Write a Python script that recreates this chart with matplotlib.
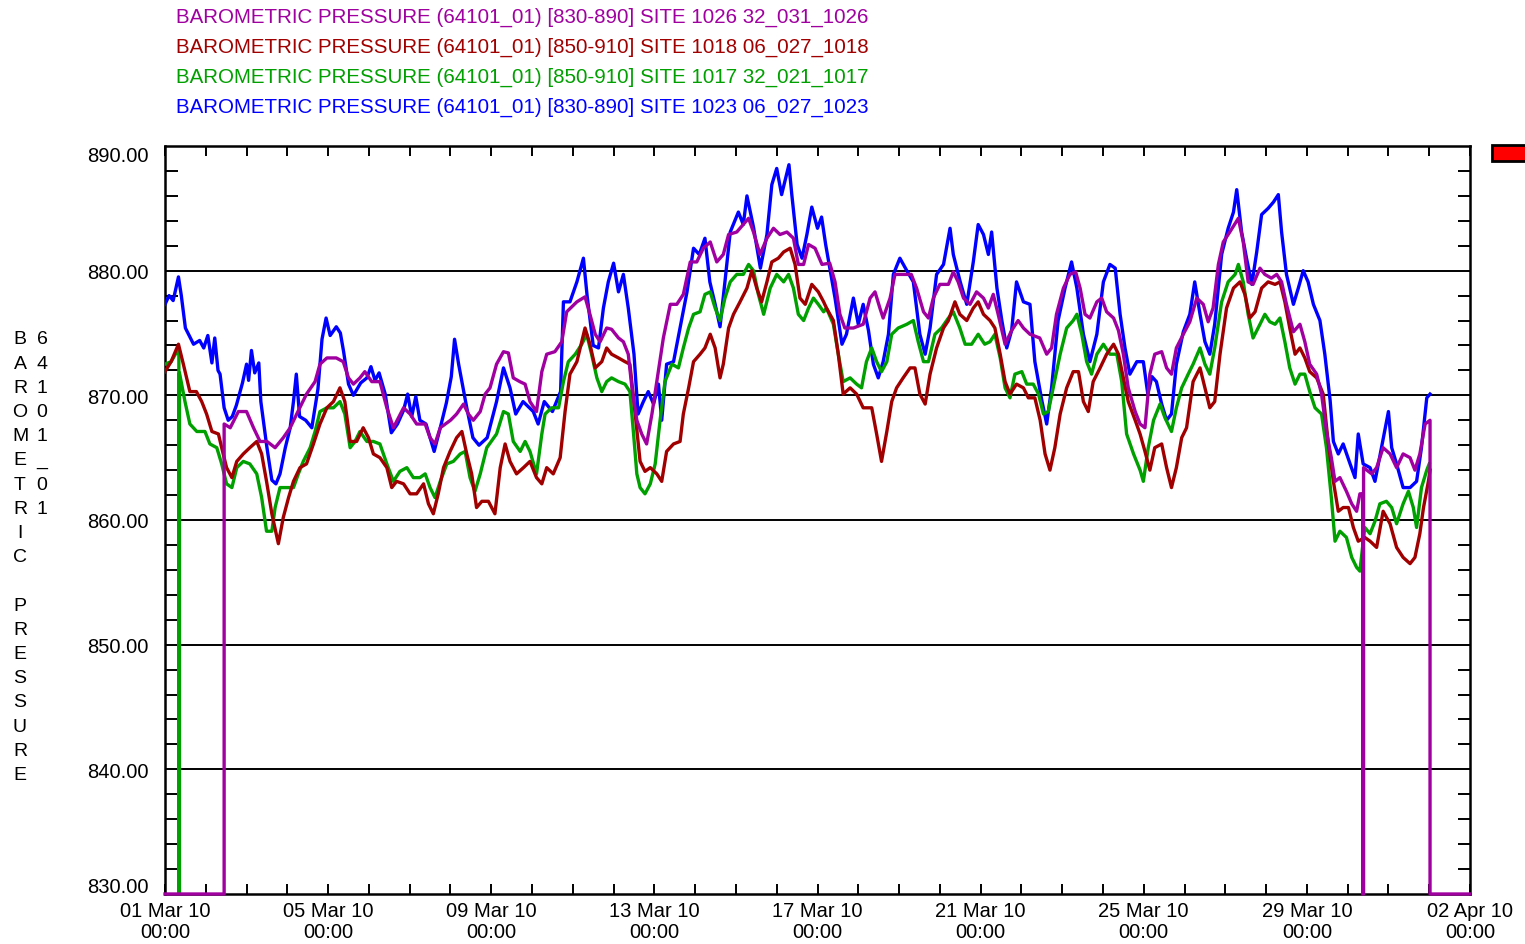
import numpy as np
import matplotlib
matplotlib.use('Agg')
import matplotlib.pyplot as plt
import matplotlib.dates as mdates
from matplotlib.patches import Rectangle
from matplotlib.transforms import ScaledTranslation

plt.rcParams['font.family'] = ['Liberation Sans', 'DejaVu Sans']

# series data: time offset in days from 01 Mar 2010 00:00, pressure values
blue_days = [0, 0.1, 0.2, 0.33, 0.4, 0.5, 0.7, 0.85, 0.95, 1.05, 1.15, 1.22, 1.3, 1.35, 1.45, 1.55, 1.65,
             1.75, 1.9, 2.0, 2.05, 2.12, 2.2, 2.3, 2.35, 2.5, 2.62, 2.72, 2.82, 2.95, 3.07, 3.15, 3.22,
             3.3, 3.45, 3.6, 3.75, 3.85, 3.95, 4.05, 4.2, 4.3, 4.38, 4.5, 4.62, 4.8, 4.95, 5.05, 5.15,
             5.25, 5.4, 5.55, 5.7, 5.85, 5.95, 6.05, 6.15, 6.25, 6.4, 6.6, 6.75, 6.9, 7.02, 7.1, 7.2,
             7.4, 7.55, 7.7, 7.9, 8.05, 8.13, 8.3, 8.46, 8.6, 8.78, 9.03, 9.15, 9.3, 9.5, 9.7, 9.77,
             9.93, 10.1, 10.26, 10.35, 10.5, 10.63, 10.75, 10.87, 11.0, 11.12, 11.24, 11.36, 11.5,
             11.6, 11.73, 11.85, 11.98, 12.1, 12.18, 12.3, 12.47, 12.6, 12.8, 12.96, 13.1, 13.24,
             13.36, 13.49, 13.61, 13.73, 13.86, 14.06, 14.18, 14.27, 14.43, 14.6, 14.76, 14.88, 15.0,
             15.12, 15.3, 15.37, 15.5, 15.62, 15.74, 15.86, 16.0, 16.1, 16.2, 16.43, 16.6, 16.71,
             16.88, 17.0, 17.12, 17.25, 17.37, 17.49, 17.61, 17.74, 17.86, 18.02, 18.19, 18.35, 18.51,
             18.64, 18.76, 18.92, 19.09, 19.25, 19.33, 19.5, 19.66, 19.82, 19.94, 20.07, 20.19, 20.27,
             20.4, 20.52, 20.64, 20.76, 20.88, 21.05, 21.21, 21.33, 21.5, 21.62, 21.74, 21.9, 22.07,
             22.23, 22.36, 22.52, 22.68, 22.85, 23.01, 23.17, 23.3, 23.42, 23.54, 23.66, 23.83, 23.99,
             24.1, 24.2, 24.31, 24.44, 24.56, 24.68, 24.8, 24.97, 25.13, 25.25, 25.38, 25.5, 25.62,
             25.74, 25.91, 26.07, 26.2, 26.28, 26.4, 26.52, 26.65, 26.77, 26.89, 27.05, 27.18, 27.3,
             27.38, 27.5, 27.67, 27.79, 27.91, 28.03, 28.16, 28.32, 28.44, 28.57, 28.65, 28.77, 28.89,
             29.06, 29.18, 29.26, 29.38, 29.55, 29.67, 29.83, 30.0, 30.08, 30.2, 30.36, 30.53, 30.69,
             30.81, 30.94, 31.02]
blue_vals = [877.3, 878, 877.6, 879.5, 878, 875.4, 874.1, 874.4, 873.8, 874.8, 872.6, 874.6, 872, 871.7,
             869, 868, 868.3, 869.2, 871, 872.5, 871.2, 873.6, 871.8, 872.6, 869.5, 865.8, 863.2,
             862.9, 863.7, 865.8, 867.4, 869.5, 871.7, 868.3, 868, 867.4, 870.5, 874.5, 876.2, 874.8,
             875.5, 875, 873.5, 870.9, 870, 871, 871.4, 872.3, 871.2, 871.8, 870.1, 867, 867.7, 868.8,
             870.1, 868.3, 869.9, 868, 867.7, 865.5, 867.4, 869.4, 871.5, 874.5, 872.5, 869, 866.6,
             866, 866.6, 868.5, 869.5, 872.2, 870.6, 868.5, 869.5, 868.7, 867.7, 869.5, 868.7, 870.3,
             877.5, 877.5, 879.1, 881, 878, 874, 873.8, 877, 879.1, 880.6, 878.3, 879.7, 877, 873.3,
             868.5, 869.5, 870.3, 869.3, 870.9, 868, 872.5, 872.7, 874.9, 878.3, 881.8, 881.3, 882.6,
             879.1, 877.3, 875.5, 879.1, 883.1, 884.7, 883.7, 886, 883.5, 880.2, 882.9, 886.9, 888.2,
             886.1, 888.5, 886.1, 882.1, 881, 882.9, 885.1, 883.4, 884.3, 882.1, 877.8, 874.1, 874.9,
             877.8, 875.7, 877.3, 875.2, 872.5, 871.4, 872.7, 874.9, 879.7, 881, 880, 879.1, 874.9,
             873.3, 875.4, 879.7, 880.5, 883.4, 881.3, 879.1, 877.3, 880.7, 883.7, 882.9, 881.3, 883.1,
             878.6, 876, 873.8, 875.2, 879.1, 877.5, 877.3, 872.7, 869.6, 867.7, 870.6, 876, 878.6,
             880.7, 878.6, 874.9, 872.7, 874.9, 879.1, 880.5, 880.2, 876.5, 873.8, 871.7, 872.7, 872.7,
             870.1, 871.5, 871.1, 869.3, 868, 868.5, 872.5, 875.1, 876.5, 879.1, 876.5, 874.3, 873.3,
             875.7, 881.3, 883.4, 884.7, 886.5, 883.1, 881, 878.9, 881.5, 884.5, 885, 885.5, 886.1,
             883.1, 879.7, 877.3, 878.6, 880, 879.1, 877.3, 876, 873.3, 869.6, 866.3, 865.3, 866.1,
             864.5, 863.4, 866.9, 864.5, 864.2, 863.1, 865.8, 868.7, 865.8, 864.5, 862.6, 862.6, 863.1,
             865.8, 869.8, 870.1]

green_days = [0, 0.15, 0.29, 0.34, 0.34, 0.355, 0.355, 0.49, 0.61, 0.78, 0.98, 1.1, 1.27, 1.39, 1.51,
              1.64, 1.76, 1.92, 2.08, 2.25, 2.37, 2.49, 2.62, 2.7, 2.82, 2.99, 3.15, 3.27, 3.39, 3.56,
              3.68, 3.8, 3.97, 4.13, 4.29, 4.41, 4.54, 4.66, 4.78, 4.95, 5.11, 5.27, 5.44, 5.6, 5.76,
              5.93, 6.09, 6.25, 6.38, 6.5, 6.62, 6.75, 6.91, 7.07, 7.24, 7.36, 7.48, 7.6, 7.73, 7.89,
              8.13, 8.3, 8.42, 8.54, 8.71, 8.83, 8.95, 9.11, 9.24, 9.32, 9.48, 9.65, 9.77, 9.89, 10.06,
              10.22, 10.34, 10.46, 10.59, 10.71, 10.83, 10.95, 11.12, 11.28, 11.4, 11.49, 11.57, 11.65,
              11.77, 11.9, 12.02, 12.14, 12.26, 12.43, 12.59, 12.71, 12.84, 12.96, 13.12, 13.24, 13.37,
              13.49, 13.61, 13.73, 13.86, 14.02, 14.18, 14.31, 14.43, 14.55, 14.68, 14.84, 15.0, 15.17,
              15.29, 15.41, 15.53, 15.66, 15.78, 15.9, 16.02, 16.15, 16.22, 16.39, 16.51, 16.63, 16.8,
              16.96, 17.08, 17.2, 17.33, 17.45, 17.57, 17.7, 17.82, 17.98, 18.19, 18.35, 18.47, 18.6,
              18.72, 18.88, 19.04, 19.21, 19.33, 19.49, 19.62, 19.78, 19.94, 20.1, 20.23, 20.35, 20.48,
              20.6, 20.72, 20.84, 21.01, 21.13, 21.29, 21.42, 21.54, 21.66, 21.78, 21.95, 22.11, 22.27,
              22.36, 22.48, 22.6, 22.72, 22.85, 23.01, 23.17, 23.34, 23.46, 23.58, 23.75, 23.91, 23.99,
              24.11, 24.24, 24.4, 24.52, 24.68, 24.8, 24.93, 25.09, 25.21, 25.38, 25.5, 25.62, 25.74,
              25.91, 26.07, 26.24, 26.32, 26.44, 26.56, 26.68, 26.85, 26.97, 27.09, 27.22, 27.34, 27.46,
              27.58, 27.71, 27.83, 27.95, 28.07, 28.2, 28.36, 28.48, 28.6, 28.69, 28.81, 28.97, 29.1,
              29.22, 29.3, 29.42, 29.55, 29.67, 29.79, 29.95, 30.08, 30.2, 30.36, 30.49, 30.61, 30.69,
              30.81, 30.94, 31.0]
green_vals = [872.5, 872.7, 873.5, 873.5, 830, 830, 871.8, 869.5, 867.7, 867.1, 867.1, 866.1, 865.8,
              864.5, 862.9, 862.6, 864.2, 864.7, 864.5, 863.7, 861.8, 859.1, 859.1, 861, 862.6, 862.6,
              862.6, 863.7, 864.7, 865.8, 867.1, 868.7, 869, 869, 869.5, 868.5, 865.8, 866.3, 867.1,
              866.3, 866.3, 866.1, 864.5, 863.1, 863.9, 864.2, 863.4, 863.4, 863.7, 862.6, 861.8, 863.1,
              864.5, 864.7, 865.3, 865.5, 863.4, 862.3, 863.7, 865.8, 866.9, 868.7, 868.5, 866.3, 865.5,
              866.3, 865.5, 863.7, 866.9, 868.5, 869, 869, 871.1, 872.7, 873.3, 874.1, 874.9, 873.3,
              871.4, 870.3, 871.1, 871.4, 871.1, 870.9, 870.3, 866.9, 863.7, 862.6, 862.1, 862.9, 864.5,
              868, 871.1, 872.5, 872.2, 873.8, 875.4, 876.5, 876.7, 878.1, 878.3, 877, 876, 877.8,
              879.1, 879.7, 879.7, 880.5, 880, 878.1, 876.5, 878.6, 879.7, 879.1, 879.7, 878.6, 876.5,
              876, 877, 877.8, 877.3, 876.7, 877, 875.7, 873.3, 871.1, 871.4, 870.9, 870.6, 872.7,
              873.8, 872.7, 871.9, 872.7, 874.9, 875.4, 875.7, 876, 874.3, 872.7, 872.7, 874.9, 875.4,
              876.2, 876.7, 875.4, 874.1, 874.1, 874.9, 874.1, 874.3, 874.9, 873, 870.6, 869.8, 871.7,
              871.9, 870.9, 870.9, 870.1, 868.5, 868.7, 870.6, 873.3, 875.4, 876, 876.5, 874.9, 872.7,
              871.7, 873.3, 874.1, 873.3, 873.3, 871.1, 866.9, 865.3, 864, 863.1, 865.8, 868, 869.3,
              868.2, 867.1, 869, 870.6, 871.7, 872.5, 873.8, 872.5, 871.7, 873.8, 877.5, 879.1, 879.7,
              880.5, 879.1, 876.5, 874.6, 875.7, 876.5, 875.9, 875.7, 876.2, 874.3, 872.2, 870.9, 871.7,
              871.7, 870.3, 869, 868.5, 865.8, 861.8, 858.3, 859.1, 858.6, 857, 856.2, 855.9, 859.4,
              858.9, 859.9, 861.3, 861.5, 861, 859.7, 861.3, 862.3, 861, 859.4, 862.6, 864, 864.5]

red_days = [0, 0.15, 0.33, 0.45, 0.61, 0.77, 0.9, 1.02, 1.15, 1.31, 1.39, 1.51, 1.64, 1.76, 1.92, 2.08,
            2.25, 2.37, 2.49, 2.62, 2.78, 2.9, 3.03, 3.15, 3.31, 3.47, 3.64, 3.8, 3.97, 4.13, 4.29, 4.41,
            4.54, 4.7, 4.86, 4.99, 5.11, 5.27, 5.44, 5.56, 5.68, 5.85, 6.01, 6.17, 6.34, 6.46, 6.58,
            6.7, 6.83, 6.99, 7.15, 7.28, 7.4, 7.52, 7.64, 7.77, 7.93, 8.09, 8.22, 8.34, 8.46, 8.62,
            8.79, 8.95, 9.11, 9.24, 9.36, 9.52, 9.69, 9.81, 9.93, 10.1, 10.3, 10.42, 10.55, 10.71,
            10.83, 10.95, 11.12, 11.28, 11.4, 11.53, 11.65, 11.77, 11.9, 12.06, 12.18, 12.3, 12.47,
            12.63, 12.71, 12.84, 12.96, 13.12, 13.24, 13.37, 13.49, 13.61, 13.69, 13.82, 13.94, 14.1,
            14.27, 14.39, 14.51, 14.63, 14.76, 14.88, 15.04, 15.17, 15.33, 15.45, 15.57, 15.7, 15.86,
            16.02, 16.15, 16.22, 16.39, 16.51, 16.63, 16.8, 16.96, 17.12, 17.33, 17.45, 17.57, 17.7,
            17.82, 17.94, 18.1, 18.27, 18.39, 18.51, 18.64, 18.76, 18.92, 19.09, 19.21, 19.37, 19.49,
            19.66, 19.82, 19.94, 20.07, 20.23, 20.35, 20.48, 20.6, 20.72, 20.88, 21.05, 21.17, 21.33,
            21.46, 21.58, 21.7, 21.82, 21.95, 22.11, 22.27, 22.4, 22.52, 22.64, 22.76, 22.93, 23.09,
            23.26, 23.38, 23.5, 23.62, 23.79, 23.91, 24.03, 24.15, 24.27, 24.44, 24.56, 24.68, 24.8,
            24.93, 25.05, 25.21, 25.38, 25.5, 25.62, 25.74, 25.87, 26.03, 26.2, 26.36, 26.48, 26.6,
            26.73, 26.89, 27.05, 27.22, 27.34, 27.46, 27.58, 27.71, 27.83, 27.95, 28.07, 28.24, 28.4,
            28.52, 28.65, 28.77, 28.89, 29.02, 29.14, 29.26, 29.42, 29.55, 29.71, 29.87, 30.04, 30.2,
            30.36, 30.53, 30.65, 30.77, 30.86, 30.98, 31.02]
red_vals = [871.9, 872.7, 874.1, 872.5, 870.3, 870.3, 869.5, 868.5, 867.1, 866.9, 865.8, 864.2, 863.4,
            864.7, 865.3, 865.8, 866.3, 865.3, 863.1, 860.5, 858.1, 860.2, 861.8, 863.1, 864.2, 864.5,
            866.1, 867.7, 869, 869.5, 870.6, 869.5, 866.3, 866.3, 867.4, 866.6, 865.3, 865, 864.2,
            862.6, 863.1, 862.9, 862.1, 862.1, 862.9, 861.3, 860.5, 862.1, 864.2, 865.5, 866.6, 867.1,
            865.3, 863.7, 861, 861.5, 861.5, 860.5, 864.2, 866.1, 864.7, 863.7, 864.2, 864.7, 863.4,
            862.9, 864.2, 863.7, 865, 868.7, 871.7, 872.7, 875.4, 874.1, 872.2, 872.7, 873.8, 873.3,
            873, 872.7, 872.5, 868.5, 864.7, 863.9, 864.2, 863.7, 863.1, 865.5, 866.1, 866.3, 868.5,
            870.6, 872.7, 873.3, 873.8, 874.9, 873.8, 871.4, 872.5, 875.4, 876.5, 877.5, 878.6, 880,
            878.6, 877.5, 879.1, 880.7, 881, 881.5, 881.8, 880.5, 877.8, 877.3, 878.9, 878.3, 877.5,
            877, 876, 873.3, 870.1, 870.6, 870.1, 869, 869, 866.9, 864.7, 867.1, 869.5, 870.6, 871.4,
            872.2, 872.2, 870.1, 869.3, 871.7, 873.8, 875.4, 876, 877.5, 876.5, 876, 877, 877.5, 876.5,
            876, 875.4, 873.3, 871.1, 870.1, 870.9, 870.6, 869.8, 869.8, 868, 865.3, 864, 865.8, 868.5,
            870.6, 871.9, 871.9, 869.5, 868.7, 871.1, 872.2, 873.3, 874.1, 873.3, 871.4, 869.5, 868,
            866.9, 865.5, 864, 865.8, 866.1, 864.2, 862.6, 864.2, 866.6, 867.4, 871.1, 872.2, 870.6,
            869, 869.5, 873.3, 877, 878.6, 879.1, 878.1, 876.2, 876.7, 878.6, 879.1, 878.9, 879.1,
            877.5, 875.4, 873.3, 873.8, 873, 871.9, 871.4, 870.1, 866.3, 863.1, 860.7, 861, 861, 859.4,
            858.3, 858.6, 858.3, 857.8, 860.7, 859.7, 857.8, 857, 856.5, 857, 858.9, 861, 863.1, 864]

magenta_days = [0, 1.45, 1.45, 1.6, 1.8, 2.0, 2.17, 2.33, 2.5, 2.7, 2.9, 3.07, 3.23, 3.47, 3.68, 3.8,
                3.97, 4.2, 4.37, 4.5, 4.62, 4.78, 4.9, 5.07, 5.27, 5.44, 5.6, 5.85, 6.01, 6.17, 6.38,
                6.5, 6.62, 6.75, 7.0, 7.15, 7.32, 7.44, 7.56, 7.73, 7.85, 7.97, 8.13, 8.3, 8.42, 8.54,
                8.7, 8.83, 8.95, 9.11, 9.24, 9.36, 9.56, 9.73, 9.85, 10.1, 10.3, 10.42, 10.55, 10.67,
                10.83, 10.95, 11.12, 11.24, 11.36, 11.45, 11.57, 11.69, 11.81, 11.94, 12.06, 12.22,
                12.39, 12.55, 12.71, 12.88, 13.04, 13.2, 13.37, 13.53, 13.69, 13.82, 14.02, 14.18,
                14.31, 14.43, 14.59, 14.76, 14.92, 15.08, 15.25, 15.41, 15.53, 15.66, 15.78, 15.94,
                16.11, 16.3, 16.43, 16.55, 16.67, 16.88, 17.12, 17.29, 17.41, 17.53, 17.61, 17.78, 17.9,
                18.1, 18.3, 18.43, 18.6, 18.72, 18.84, 19.0, 19.21, 19.33, 19.45, 19.58, 19.74, 19.9,
                20.07, 20.19, 20.31, 20.43, 20.6, 20.76, 20.92, 21.05, 21.21, 21.45, 21.62, 21.74,
                21.86, 22.03, 22.19, 22.33, 22.44, 22.56, 22.68, 22.85, 22.97, 23.09, 23.26, 23.38,
                23.5, 23.62, 23.79, 23.91, 24.03, 24.15, 24.27, 24.44, 24.56, 24.68, 24.8, 24.97, 25.13,
                25.3, 25.46, 25.58, 25.7, 25.83, 25.95, 26.11, 26.32, 26.44, 26.56, 26.68, 26.85, 26.97,
                27.13, 27.26, 27.38, 27.5, 27.67, 27.83, 27.95, 28.07, 28.24, 28.36, 28.48, 28.6, 28.69,
                28.81, 28.97, 29.1, 29.22, 29.3, 29.37, 29.37, 29.39, 29.39, 29.59, 29.71, 29.87, 30.04,
                30.2, 30.36, 30.53, 30.65, 30.77, 30.9, 31.02, 31.02, 32]
magenta_vals = [830, 830, 867.7, 867.4, 868.7, 868.7, 867.4, 866.3, 866.3, 865.8, 866.6, 867.4, 868.5,
                870.1, 871.1, 872.5, 873, 873, 872.7, 871.4, 870.9, 871.4, 871.9, 871.1, 871.1, 869,
                867.4, 869, 868.5, 867.7, 867.7, 866.6, 866.1, 867.4, 868, 868.5, 869.3, 868.5, 868,
                868.7, 870.1, 870.6, 872.5, 873.5, 873.4, 871.4, 871.1, 870.9, 869.5, 868.7, 871.9,
                873.3, 873.5, 874.3, 876.7, 877.5, 877.9, 876.5, 874.9, 874.3, 875.4, 875.3, 874.6,
                874.3, 873.3, 870.6, 868, 866.9, 866.1, 868.5, 871.1, 874.6, 877.3, 877.3, 878.1, 880.7,
                880.7, 881.8, 882.3, 880.7, 881.3, 882.9, 883.1, 883.7, 884.2, 883.1, 881.3, 882.6,
                883.4, 882.9, 883.1, 882.6, 880.5, 880.5, 882.1, 881.8, 880.5, 880.6, 879.1, 876.5,
                875.4, 875.4, 875.7, 877.8, 878.3, 877, 876.2, 877.8, 879.7, 879.7, 879.7, 878.6, 876.7,
                876.2, 877.8, 878.9, 878.9, 879.9, 879.1, 877.8, 877.3, 878.3, 877.8, 877, 878.1, 876.5,
                874.1, 875.2, 876, 875.4, 874.9, 874.6, 873.3, 873.8, 876.5, 878.6, 879.7, 879.9, 878.6,
                876.5, 876.2, 877.5, 877.8, 876.7, 876.2, 875.2, 873.3, 870.6, 868.7, 867.7, 867.4,
                871.7, 873.3, 873.5, 872.2, 871.7, 873.8, 874.9, 875.9, 877.8, 877.3, 875.9, 877, 880.5,
                882.3, 883.1, 884.2, 882.3, 879.1, 878.9, 880.2, 879.7, 879.4, 879.7, 879.1, 877.3,
                875.1, 875.7, 874.3, 872.5, 871.7, 870.1, 867.1, 865, 863.1, 863.4, 862.3, 861.3, 860.7,
                862.1, 862.1, 830, 830, 864.2, 863.7, 864.2, 865.8, 865.3, 864.2, 865.3, 865, 864, 865.3,
                867.7, 868, 830, 830]

legend_labels = [
    'BAROMETRIC PRESSURE (64101_01) [830-890] SITE 1026 32_031_1026',
    'BAROMETRIC PRESSURE (64101_01) [850-910] SITE 1018 06_027_1018',
    'BAROMETRIC PRESSURE (64101_01) [850-910] SITE 1017 32_021_1017',
    'BAROMETRIC PRESSURE (64101_01) [830-890] SITE 1023 06_027_1023',
]
legend_colors = ['#A000A0', '#A00000', '#00A000', '#0000FF']

y_ticks = [830, 840, 850, 860, 870, 880, 890]
y_label_col1 = 'BAROMETRIC PRESSURE'
y_label_col2 = '64101_01'

start = np.datetime64('2010-03-01T00:00')


def to_time(days):
    return start + (np.array(days) * 86400).astype('timedelta64[s]')


fig = plt.figure(figsize=(15.25, 9.45), dpi=100)
W, H = 1525, 945
ax = fig.add_axes([165 / W, 1 - 895 / H, (1470 - 165) / W, (895 - 147) / H])

ax.plot(to_time(blue_days), blue_vals, color=legend_colors[3], lw=2.4, zorder=3)
ax.plot(to_time(green_days), green_vals, color=legend_colors[2], lw=2.4, zorder=3.1)
ax.plot(to_time(red_days), red_vals, color=legend_colors[1], lw=2.4, zorder=3.2)
ax.plot(to_time(magenta_days), magenta_vals, color=legend_colors[0], lw=2.4, zorder=3.3, clip_on=False)

ax.set_ylim(830, 890)
ax.set_xlim(np.datetime64('2010-03-01'), np.datetime64('2010-04-02'))

# horizontal grid lines
for yv in y_ticks[1:-1]:
    ax.axhline(yv, color='black', lw=1.4, zorder=1)

ax.set_yticks(y_ticks)
ax.set_yticklabels([f'{v:.2f}' for v in y_ticks])
ax.set_yticks(np.arange(830, 891, 2), minor=True)

xmajor = np.arange('2010-03-01', '2010-04-03', 4, dtype='datetime64[D]')
ax.set_xticks(xmajor)
ax.xaxis.set_major_formatter(mdates.DateFormatter('%d %b %y\n%H:%M'))
ax.xaxis.set_minor_locator(mdates.DayLocator())

ax.tick_params(axis='y', which='major', direction='in', length=0, labelsize=14.5, pad=12,
               left=True, right=True)
ax.tick_params(axis='y', which='minor', direction='in', length=9, width=1.4, left=True, right=True)
ax.tick_params(axis='x', which='both', direction='in', length=7.5, width=1.4, top=True, bottom=True)
ax.tick_params(axis='x', which='major', labelsize=14.5, pad=5)

for lbl in ax.get_xticklabels():
    lbl.set_linespacing(1.15)

# end labels sit a little inside the axis range, as in the original
for tick, loc in zip(ax.yaxis.get_major_ticks(), y_ticks):
    if loc == y_ticks[0]:
        tick.label1.set_transform(tick.label1.get_transform()
                                  + ScaledTranslation(0, 9 / 100, fig.dpi_scale_trans))
    elif loc == y_ticks[-1]:
        tick.label1.set_transform(tick.label1.get_transform()
                                  + ScaledTranslation(0, -8 / 100, fig.dpi_scale_trans))

for sp in ax.spines.values():
    sp.set_linewidth(1.8)
    sp.set_color('black')

# legend text lines above the plot
for i, (txt, col) in enumerate(zip(legend_labels, legend_colors)):
    fig.text(176 / W, 1 - (17 + 30 * i) / H, txt, color=col, fontsize=14.8, ha='left', va='center')

# stacked vertical y-axis label
for i, ch in enumerate(y_label_col1):
    fig.text(20 / W, 1 - (340 + 24.2 * i) / H, ch, fontsize=14, ha='center', va='center')
for i, ch in enumerate(y_label_col2):
    fig.text(42 / W, 1 - (340 + 24.2 * i) / H, ch, fontsize=14, ha='center', va='center')

# small red marker at the top right
fig.add_artist(Rectangle((1492 / W, 1 - 162 / H), 40 / W, 16 / H, transform=fig.transFigure,
                         facecolor='red', edgecolor='black', lw=2))

fig.savefig('out.png', dpi=100)
